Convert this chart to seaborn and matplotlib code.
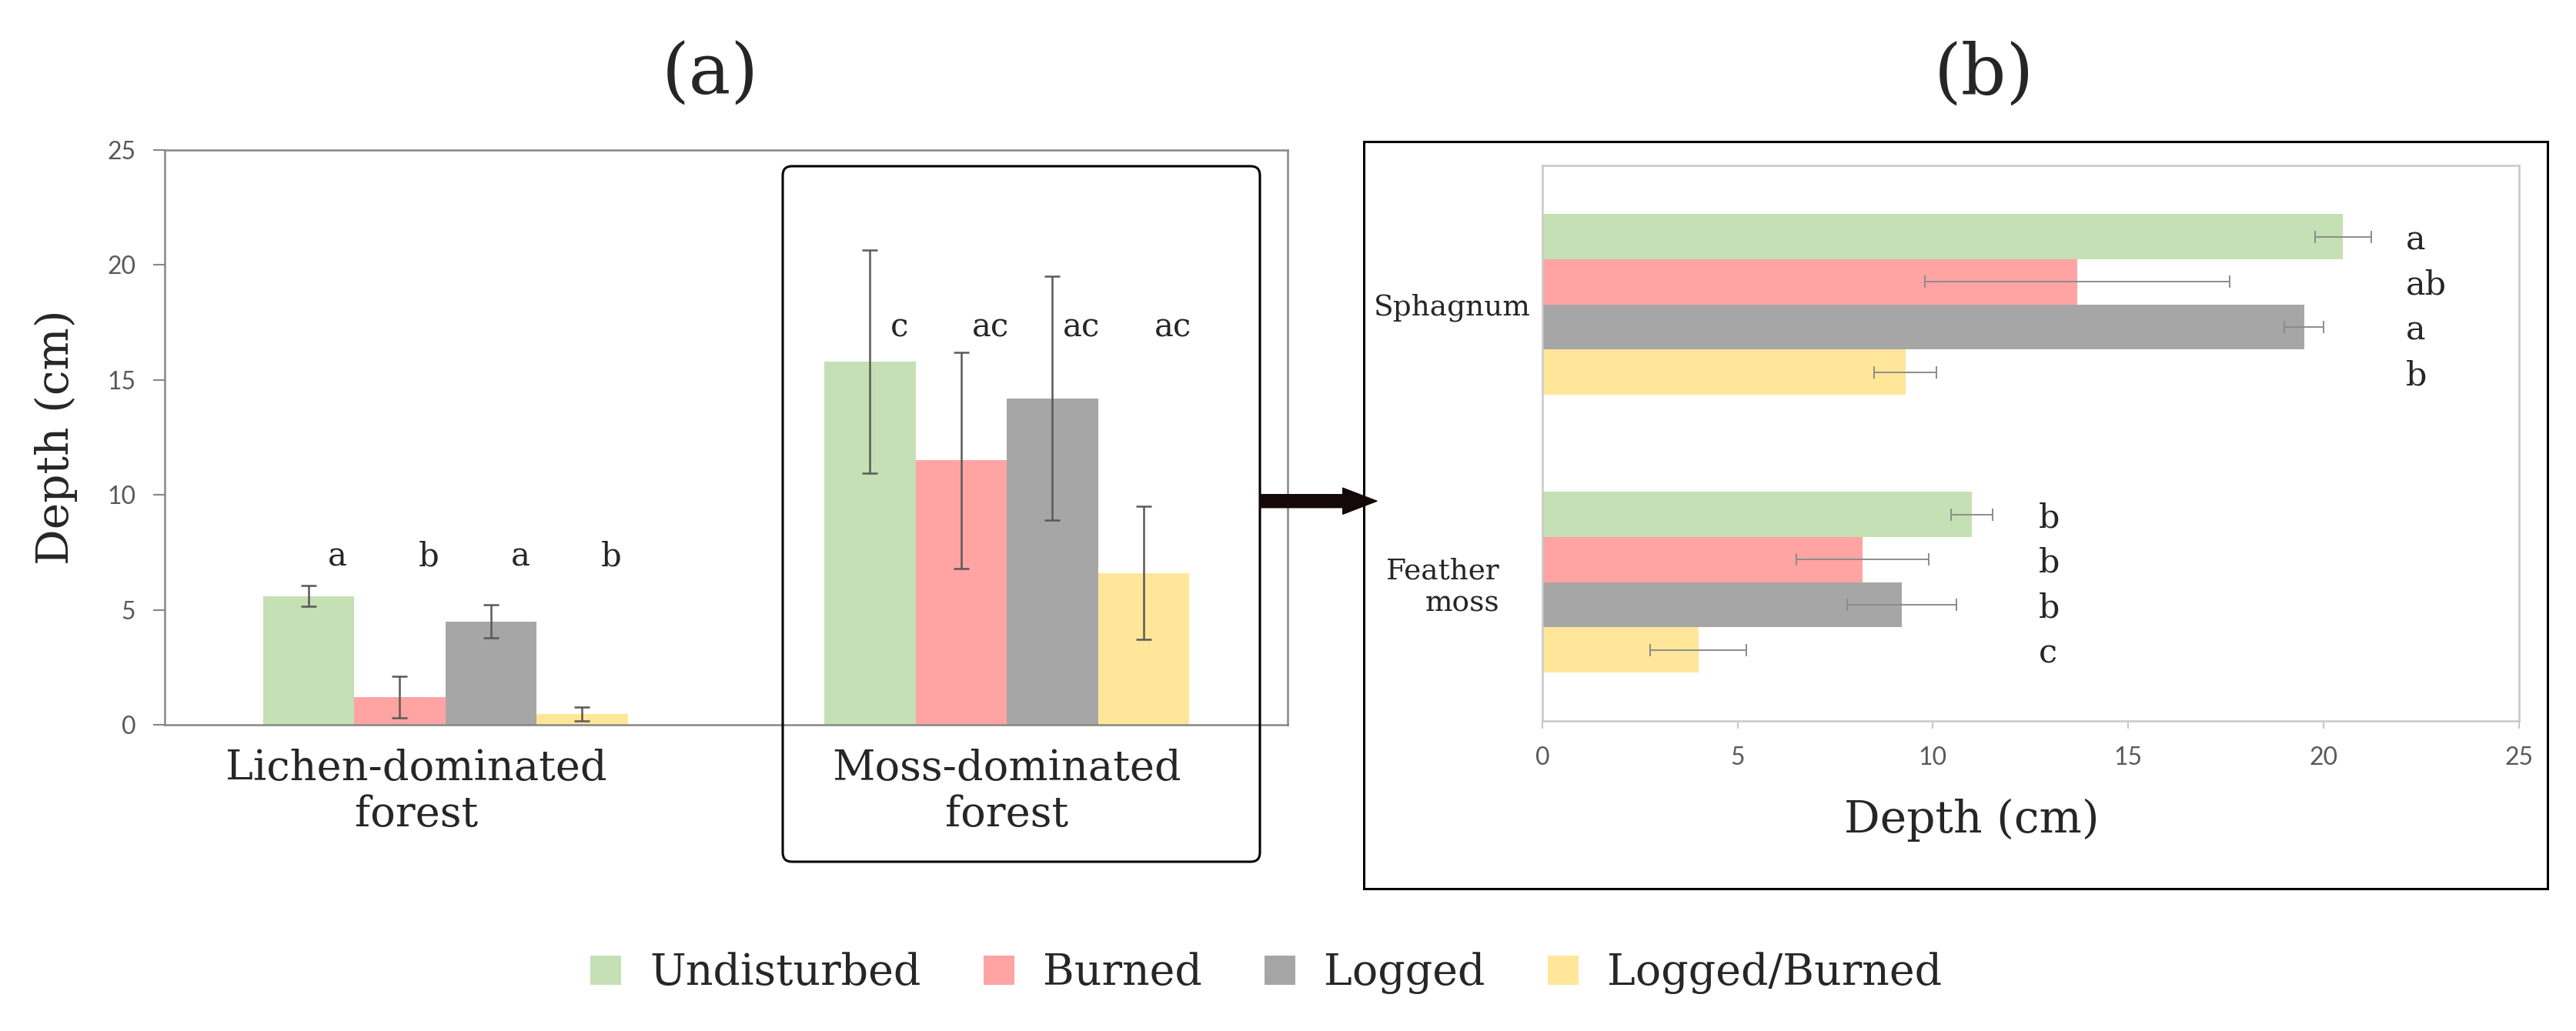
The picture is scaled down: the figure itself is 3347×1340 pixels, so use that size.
import numpy as np
import pandas as pd
import seaborn as sns
import matplotlib.pyplot as plt
from matplotlib.patches import FancyBboxPatch, Rectangle, FancyArrowPatch
from matplotlib.transforms import ScaledTranslation

treatments = ['Undisturbed', 'Burned', 'Logged', 'Logged/Burned']
colors = ['#c5e0b4', '#ffa3a3', '#a6a6a6', '#ffe699']

# (a) depth by forest type
forests = ['Lichen-dominated\nforest', 'Moss-dominated\nforest']
lichen_depth = [5.6, 1.2, 4.5, 0.47]
lichen_err = [0.45, 0.9, 0.72, 0.3]
moss_depth = [15.8, 11.5, 14.2, 6.6]
moss_err = [4.85, 4.7, 5.3, 2.9]
lichen_letters = ['a', 'b', 'a', 'b']
moss_letters = ['c', 'ac', 'ac', 'ac']

# (b) depth by moss type
mosses = ['Sphagnum', 'Feather\nmoss']
sphagnum_depth = [20.5, 13.7, 19.5, 9.3]
sphagnum_err = [0.72, 3.9, 0.51, 0.8]
feather_depth = [11.0, 8.2, 9.2, 4.0]
feather_err = [0.53, 1.7, 1.4, 1.23]
sphagnum_letters = ['a', 'ab', 'a', 'b']
feather_letters = ['b', 'b', 'b', 'c']

df_a = pd.DataFrame({'forest': np.repeat(forests, 4),
                     'treatment': treatments * 2,
                     'depth': lichen_depth + moss_depth,
                     'err': lichen_err + moss_err,
                     'letter': lichen_letters + moss_letters})
df_b = pd.DataFrame({'moss': np.repeat(mosses, 4),
                     'treatment': treatments * 2,
                     'depth': sphagnum_depth + feather_depth,
                     'err': sphagnum_err + feather_err,
                     'letter': sphagnum_letters + feather_letters})

sns.set_style('white')
plt.rcParams['font.family'] = ['DejaVu Serif']

fig = plt.figure(figsize=(33.47, 13.4), dpi=100)
ax1 = fig.add_axes([0.0639, 0.2970, 0.4359, 0.5575])
ax2 = fig.add_axes([0.5987, 0.3007, 0.3791, 0.5388])

# ---- panel (a)
sns.barplot(data=df_a, x='forest', y='depth', hue='treatment', hue_order=treatments,
            palette=colors, width=0.65, errorbar=None, linewidth=0, saturation=1, ax=ax1)
handles, labels = ax1.get_legend_handles_labels()
ax1.get_legend().remove()

letter_base = {forests[0]: 6.9, forests[1]: 16.9}
for cont, t in zip(ax1.containers, treatments):
    sub = df_a[df_a.treatment == t]
    xs = [b.get_x() + b.get_width() / 2 for b in cont]
    ax1.errorbar(xs, sub.depth, yerr=sub.err, fmt='none', ecolor='#595959',
                 elinewidth=1.8, capsize=7, capthick=1.8)
    for x, f, l in zip(xs, sub.forest, sub.letter):
        ax1.text(x + 0.052, letter_base[f], l, ha='center', va='baseline', fontsize=30)

ax1.set_xlim(-0.5, 1.5)
ax1.set_ylim(0, 25)
ax1.set_yticks(range(0, 26, 5))
ax1.set_xlabel('')
ax1.set_ylabel('Depth (cm)', fontsize=42, va='center')
ax1.yaxis.set_label_coords(-0.0966, 0.5)
ax1.tick_params(axis='y', length=11, width=1.5, color='#868686', pad=16,
                labelsize=23, labelcolor='#595959', labelfontfamily='Lato', left=True)
ax1.tick_params(axis='x', length=0, pad=22, labelsize=39)
for sp in ax1.spines.values():
    sp.set_color('#868686')
    sp.set_linewidth(1.8)
lab = ax1.get_xticklabels()[0]
lab.set_transform(lab.get_transform() + ScaledTranslation(-0.38, 0, fig.dpi_scale_trans))

# ---- panel (b)
sns.barplot(data=df_b, y='moss', x='depth', hue='treatment', hue_order=treatments, orient='h',
            palette=colors, width=0.65, errorbar=None, linewidth=0, saturation=1,
            legend=False, ax=ax2)
letter_x = {mosses[0]: 22.1, mosses[1]: 12.7}
for cont, t in zip(ax2.containers, treatments):
    sub = df_b[df_b.treatment == t]
    ys = [b.get_y() + b.get_height() / 2 for b in cont]
    ax2.errorbar(sub.depth, ys, xerr=sub.err, fmt='none', ecolor='#8c8c8c',
                 elinewidth=1.4, capsize=5.5, capthick=1.4)
    for y, m, l in zip(ys, sub.moss, sub.letter):
        ax2.text(letter_x[m], y, l, ha='left', va='center_baseline', fontsize=31)

ax2.set_xlim(0, 25)
ax2.set_ylim(1.5, -0.5)
ax2.set_xticks(range(0, 26, 5))
ax2.set_ylabel('')
ax2.set_xlabel('Depth (cm)', fontsize=42, va='center')
ax2.xaxis.set_label_coords(0.44, -0.1787)
ax2.tick_params(axis='x', length=7, width=1.5, color='#c8c8c8', pad=17, bottom=True,
                labelsize=23, labelcolor='#595959', labelfontfamily='Lato')
ax2.tick_params(axis='y', length=0, pad=11, labelsize=27)
for sp in ax2.spines.values():
    sp.set_color('#c8c8c8')
    sp.set_linewidth(1.8)
lab = ax2.get_yticklabels()[1]
lab.set_transform(lab.get_transform() + ScaledTranslation(-0.40, 0, fig.dpi_scale_trans))

# ---- decorations
fig.text(0.2758, 0.927, '(a)', ha='center', va='center', fontsize=66)
fig.text(0.7702, 0.927, '(b)', ha='center', va='center', fontsize=66)

fig.add_artist(FancyBboxPatch((10.17, 2.20), 6.20, 9.04,
                              boxstyle='round,pad=0,rounding_size=0.12',
                              transform=fig.dpi_scale_trans, fill=False,
                              edgecolor='black', linewidth=2.2))
fig.add_artist(Rectangle((17.72, 1.85), 15.38, 9.71, transform=fig.dpi_scale_trans,
                         fill=False, edgecolor='black', linewidth=2.2))
fig.add_artist(FancyArrowPatch((0.4891, 0.514), (0.5345, 0.514), transform=fig.transFigure,
                               arrowstyle='simple,head_length=1.3,head_width=1.0,tail_width=0.5',
                               mutation_scale=24.5, color='#140808', shrinkA=0, shrinkB=0))

fig.legend(handles, labels, ncol=4, loc='center', bbox_to_anchor=(0.4915, 0.056),
           frameon=False, fontsize=40, handlelength=0.72, handleheight=0.67,
           handletextpad=0.67, columnspacing=1.46)

fig.savefig('out.png', dpi=100)
